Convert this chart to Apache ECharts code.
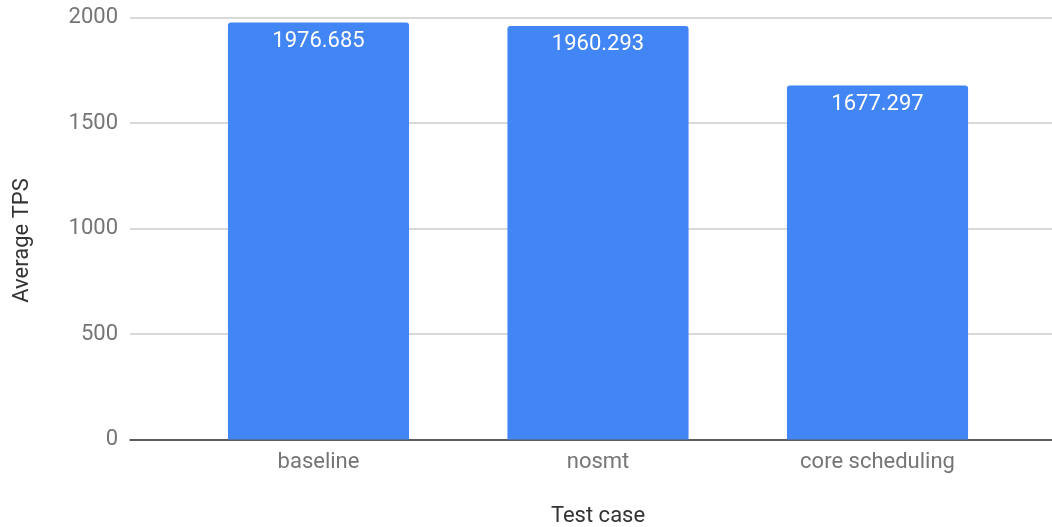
<!DOCTYPE html>
<html>
<head>
<meta charset="utf-8">
<script src="https://cdn.jsdelivr.net/npm/echarts@6/dist/echarts.min.js"></script>
<style>
  html, body { margin: 0; padding: 0; background: #fff; }
  #chart { width: 1052px; height: 527px; }
</style>
</head>
<body>
<div id="chart"></div>
<script>
// Average TPS per test case
const categories = ['baseline', 'nosmt', 'core scheduling'];
const tpsValues = [1976.685, 1960.293, 1677.297];
const yTicks = { min: 0, max: 2000, interval: 500 };

const FONT = 'Roboto, "Noto Sans", sans-serif';
const FS = 22;
const GRID_TOP = 17.5;
const GRID_BOTTOM = 87.5;

const chart = echarts.init(document.getElementById('chart'), null, { renderer: 'canvas' });

chart.setOption({
  animation: false,
  textStyle: { fontFamily: FONT },
  grid: [
    // full-width frame carrying the value axis, gridlines and baseline
    { left: 130, right: 0, top: GRID_TOP, bottom: GRID_BOTTOM, containLabel: false, outerBoundsMode: 'none' },
    // inner band where the bars sit
    { left: 178.75, right: 34.75, top: GRID_TOP, bottom: GRID_BOTTOM, containLabel: false, outerBoundsMode: 'none' }
  ],
  xAxis: [
    {
      gridIndex: 0, type: 'value', min: 0, max: 1,
      axisLine: { show: true, onZero: false, lineStyle: { color: '#333', width: 1.5 } },
      axisTick: { show: false }, axisLabel: { show: false }, splitLine: { show: false }
    },
    {
      gridIndex: 1, type: 'category', data: categories,
      axisLine: { show: false }, axisTick: { show: false },
      axisLabel: { color: '#757575', fontSize: FS, margin: 12, fontFamily: FONT },
      name: 'Test case', nameLocation: 'middle', nameGap: 66,
      nameTextStyle: { color: '#333', fontSize: FS, fontFamily: FONT }
    }
  ],
  yAxis: [
    {
      gridIndex: 0, type: 'value', min: yTicks.min, max: yTicks.max, interval: yTicks.interval,
      axisLine: { show: false }, axisTick: { show: false },
      axisLabel: { color: '#757575', fontSize: FS, margin: 12, fontFamily: FONT,
                   formatter: v => String(v) },
      splitLine: { show: true, lineStyle: { color: '#cccccc', width: 1.5 } }
    },
    {
      gridIndex: 1, type: 'value', min: yTicks.min, max: yTicks.max, interval: yTicks.interval,
      show: false
    }
  ],
  graphic: [
    {
      type: 'text', x: 22, y: 240.5, rotation: Math.PI / 2,
      style: {
        text: 'Average TPS', fill: '#333', fontSize: FS, fontFamily: FONT,
        align: 'center', verticalAlign: 'middle'
      }
    }
  ],
  series: [
    {
      type: 'bar', xAxisIndex: 1, yAxisIndex: 1,
      data: tpsValues,
      barWidth: '64.8%',
      itemStyle: { color: '#4285F4', borderRadius: [3, 3, 0, 0] },
      label: {
        show: true, position: 'insideTop', distance: 8,
        color: '#ffffff', fontSize: FS, fontFamily: FONT,
        formatter: p => p.value.toFixed(3)
      }
    }
  ]
});
</script>
</body>
</html>
